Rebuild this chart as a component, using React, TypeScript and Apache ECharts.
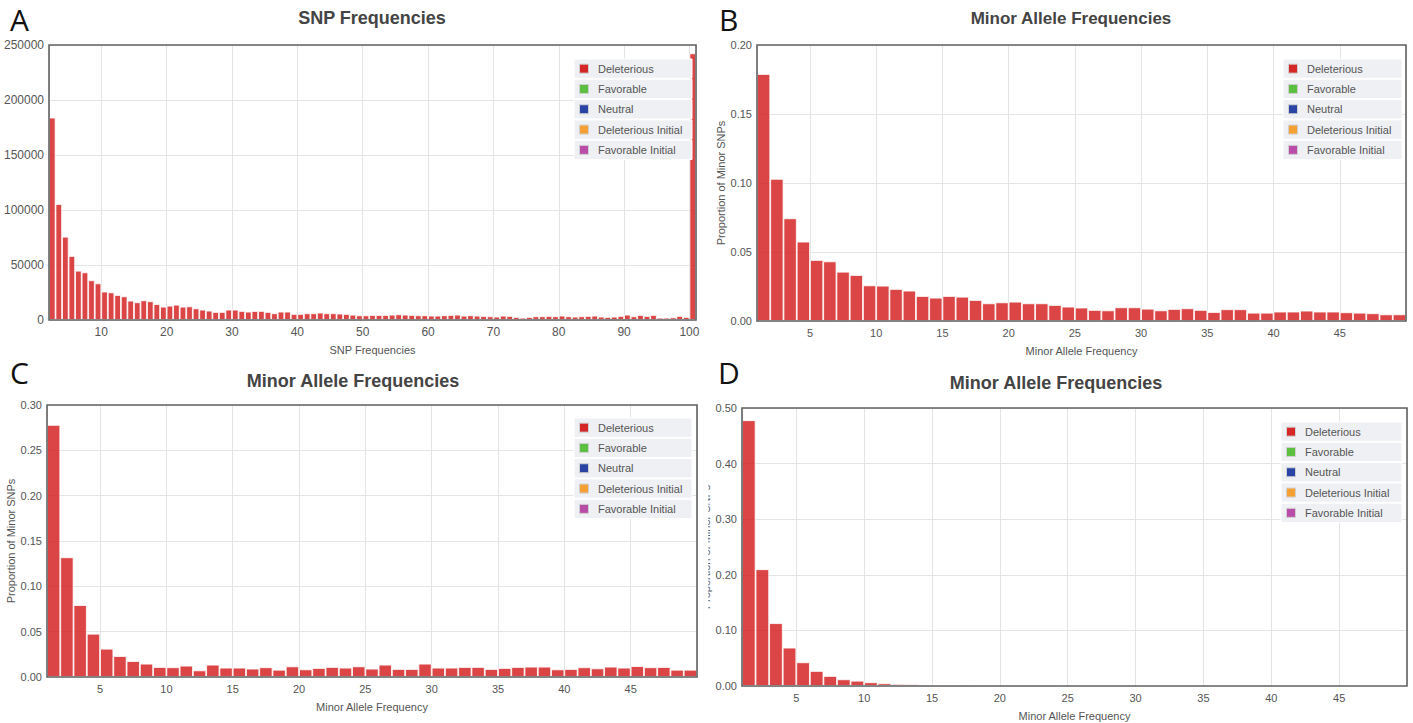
import React, { useEffect, useRef } from 'react';
import * as echarts from 'echarts';

// ---------- data ----------
// Panel A: SNP frequency histogram, bins start at 2 (bin k spans [k, k+1])
const snpBinStart = 2;
const snpCounts = [
  184000, 105400, 75700, 58200, 44800, 43300, 36100, 33300,
  25800, 25100, 22700, 21500, 17600, 16100, 17900, 17000, 14500, 12100,
  13000, 13900, 12100, 12400, 10600, 9400, 8500, 7300, 7300, 9400,
  9400, 8200, 7600, 8200, 8200, 7300, 6100, 7600, 7600, 5500,
  5500, 6100, 6100, 6700, 6100, 6100, 5800, 5500, 4800, 4200,
  4200, 4500, 4500, 4500, 4850, 5150, 4850, 4550, 4250, 4250,
  3950, 3950, 4250, 4550, 4850, 3950, 4250, 3950, 3650, 3350,
  3050, 3950, 3650, 2750, 2100, 2750, 3350, 3350, 3650, 3350,
  3950, 3350, 3050, 3350, 3650, 3950, 3050, 2750, 3050, 3650,
  4850, 3350, 4550, 3650, 4550, 2100, 2100, 2400, 3650, 2750,
  242400,
];

// Panels B, C, D: minor allele frequency, bins start at 1
const mafBinStart = 1;
const mafB = [
  0.179, 0.103, 0.0744, 0.0575, 0.0442, 0.0432, 0.0357, 0.0333, 0.0258, 0.0256,
  0.0232, 0.022, 0.0181, 0.0169, 0.0181, 0.0176, 0.0152, 0.0128, 0.0135, 0.014,
  0.0128, 0.0128, 0.0116, 0.0104, 0.0097, 0.008, 0.0077, 0.0099, 0.0099, 0.0089,
  0.0077, 0.0087, 0.0092, 0.008, 0.0065, 0.0085, 0.0085, 0.006, 0.006, 0.0068,
  0.0068, 0.0075, 0.0068, 0.0068, 0.0063, 0.006, 0.0056, 0.0048, 0.0048,
];
const mafC = [
  0.278, 0.132, 0.0793, 0.0477, 0.0312, 0.0231, 0.0176, 0.0147, 0.011, 0.0107,
  0.0125, 0.0073, 0.0136, 0.0103, 0.0103, 0.0092, 0.0107, 0.008, 0.0117, 0.0084,
  0.0099, 0.011, 0.0103, 0.0117, 0.0092, 0.0136, 0.0088, 0.0088, 0.0147, 0.0103,
  0.0103, 0.011, 0.011, 0.0088, 0.0099, 0.011, 0.0114, 0.0114, 0.0084, 0.0088,
  0.0107, 0.0095, 0.0114, 0.0103, 0.012, 0.0107, 0.011, 0.008, 0.008,
];
const mafD = [
  0.478, 0.21, 0.113, 0.069, 0.0426, 0.027, 0.018, 0.012, 0.0095, 0.0066,
  0.0048, 0.0036, 0.003, 0.0025, 0.0022, 0.002, 0.0015, 0.0012, 0.001, 0.0009,
  0.0008, 0.0007, 0.0007, 0.0006, 0.0005, 0.0005, 0.0004, 0.0004, 0.0004, 0.0003,
  0.0003, 0.0003, 0.0003, 0.0002, 0.0002, 0.0002, 0.0002, 0.0002, 0.0002, 0.0002,
  0.0002, 0.0001, 0.0001, 0.0001, 0.0001, 0.0001, 0.0001, 0.0001, 0.0001,
];

const legendNames = ['Deleterious', 'Favorable', 'Neutral', 'Deleterious Initial', 'Favorable Initial'];
const legendColors = ['#d62728', '#5cbf3f', '#2a44a6', '#f5a032', '#b94ca9'];

// ---------- layout ----------
const FONT = '"Liberation Sans", Arial, Helvetica, sans-serif';
const LETTER_FONT = '"Open Sans", "Noto Sans", sans-serif';
const BAR_COLOR = 'rgba(214,39,40,0.86)';

const panels = [
  {
    letter: 'A', letterPos: [10, 19],
    title: 'SNP Frequencies', titlePos: [372, 18], titleSize: 18,
    grid: { left: 49, top: 45, width: 647, height: 275 },
    xMin: 2, xMax: 101, xStep: 10, xName: 'SNP Frequencies',
    yMax: 250000, yStep: 50000, yDec: 0, yName: '',
    start: snpBinStart, values: snpCounts,
    legend: [574, 59, 118], labelSize: 12,
  },
  {
    letter: 'B', letterPos: [719, 19],
    title: 'Minor Allele Frequencies', titlePos: [1071, 18], titleSize: 17,
    grid: { left: 757, top: 45, width: 649, height: 276 },
    xMin: 1, xMax: 50, xStep: 5, xName: 'Minor Allele Frequency',
    yMax: 0.2, yStep: 0.05, yDec: 2, yName: 'Proportion of Minor SNPs',
    start: mafBinStart, values: mafB,
    legend: [1283, 59, 119], labelSize: 11,
  },
  {
    letter: 'C', letterPos: [10, 372],
    title: 'Minor Allele Frequencies', titlePos: [353, 381], titleSize: 18,
    grid: { left: 47, top: 405, width: 650, height: 272 },
    xMin: 1, xMax: 50, xStep: 5, xName: 'Minor Allele Frequency',
    yMax: 0.3, yStep: 0.05, yDec: 2, yName: 'Proportion of Minor SNPs',
    start: mafBinStart, values: mafC,
    legend: [574, 418, 118], labelSize: 11,
  },
  {
    letter: 'D', letterPos: [718, 372],
    title: 'Minor Allele Frequencies', titlePos: [1056, 383], titleSize: 18,
    grid: { left: 742, top: 408, width: 665, height: 278 },
    xMin: 1, xMax: 50, xStep: 5, xName: 'Minor Allele Frequency',
    yMax: 0.5, yStep: 0.1, yDec: 2, yName: 'Proportion of Minor SNPs',
    start: mafBinStart, values: mafD,
    legend: [1281, 422, 121], labelSize: 11,
  },
];

function legendGroup(x0: number, y0: number, w: number) {
  const rowH = 20.3;
  const children: any[] = [];
  legendNames.forEach((name, i) => {
    const top = y0 + i * rowH;
    const cy = top + rowH / 2;
    children.push({
      type: 'rect', z: 20,
      shape: { x: x0, y: top, width: w, height: rowH - 1 },
      style: { fill: '#eef0f3', stroke: '#ffffff', lineWidth: 1 },
    });
    children.push({
      type: 'rect', z: 21,
      shape: { x: x0 + 5.5, y: cy - 5, width: 9, height: 9 },
      style: { fill: legendColors[i], stroke: '#d0d0d0', lineWidth: 1 },
    });
    children.push({
      type: 'text', z: 22,
      x: x0 + 24,
      y: cy - 0.5,
      style: {
        text: name, fill: '#555', fontSize: 11, fontFamily: FONT,
        align: 'left', verticalAlign: 'middle', textAlign: 'left', textVerticalAlign: 'middle',
      },
    });
  });
  return { type: 'group', children };
}

function buildOption() {
  const graphic: any[] = [];
  panels.forEach((p) => {
    const g = p.grid;
    graphic.push({
      type: 'rect', z: 30,
      shape: { x: g.left, y: g.top, width: g.width, height: g.height },
      style: { fill: 'none', stroke: '#626262', lineWidth: 1.6 },
    });
    graphic.push({
      type: 'text', z: 30, x: p.titlePos[0], y: p.titlePos[1],
      style: {
        text: p.title, fill: '#444', fontSize: p.titleSize, fontWeight: 'bold', fontFamily: FONT,
        align: 'center', verticalAlign: 'middle', textAlign: 'center', textVerticalAlign: 'middle',
      },
    });
    graphic.push({
      type: 'text', z: 30, x: p.letterPos[0], y: p.letterPos[1],
      style: {
        text: p.letter, fill: '#111', fontSize: 30, lineHeight: 30, fontWeight: 'normal',
        fontFamily: LETTER_FONT,
        align: 'left', verticalAlign: 'middle', textAlign: 'left', textVerticalAlign: 'middle',
      },
    });
    graphic.push(legendGroup(p.legend[0], p.legend[1], p.legend[2]));
  });
  // the D panel's axis title is half hidden in the reference
  graphic.push({
    type: 'rect', z: 40,
    shape: { x: 699, y: 470, width: 9.3, height: 170 },
    style: { fill: '#fff' },
  });

  return {
    animation: false,
    backgroundColor: '#fff',
    grid: panels.map((p) => ({ ...p.grid, show: false })),
    xAxis: panels.map((p, i) => ({
      type: 'value',
      gridIndex: i,
      min: p.xMin,
      max: p.xMax,
      splitNumber: 10,
      minInterval: p.xStep,
      maxInterval: p.xStep,
      axisLine: { show: false },
      axisTick: { show: false },
      axisLabel: {
        showMinLabel: false, showMaxLabel: false,
        fontSize: p.labelSize, color: '#555', fontFamily: FONT, margin: 6,
      },
      splitLine: { show: true, lineStyle: { color: '#e4e4e4', width: 1 } },
      name: p.xName,
      nameLocation: 'middle',
      nameGap: 24,
      nameTextStyle: { fontSize: 11, color: '#555', fontFamily: FONT, verticalAlign: 'top' },
    })),
    yAxis: panels.map((p, i) => ({
      type: 'value',
      gridIndex: i,
      min: 0,
      max: p.yMax,
      interval: p.yStep,
      axisLine: { show: false },
      axisTick: { show: false },
      axisLabel: {
        fontSize: p.labelSize, color: '#555', fontFamily: FONT, margin: 5,
        formatter: (v: number) => (p.yDec ? v.toFixed(p.yDec) : String(Math.round(v))),
      },
      splitLine: { show: true, lineStyle: { color: '#e4e4e4', width: 1 } },
      name: p.yName,
      nameLocation: 'middle',
      nameGap: 30,
      nameTextStyle: { fontSize: 11, color: '#555', fontFamily: FONT },
    })),
    series: panels.map((p, i) => ({
      type: 'bar',
      name: 'Deleterious',
      xAxisIndex: i,
      yAxisIndex: i,
      barWidth: '100%',
      barCategoryGap: 0,
      itemStyle: { color: BAR_COLOR, borderColor: '#fff', borderWidth: 0.8 },
      silent: true,
      data: p.values.map((v, k) => [p.start + k + 0.5, v]),
    })),
    graphic,
  };
}

export default function App() {
  const ref = useRef<HTMLDivElement>(null);
  useEffect(() => {
    if (!ref.current) return;
    const chart = echarts.init(ref.current, undefined, { renderer: 'svg' });
    chart.setOption(buildOption() as any);
    return () => chart.dispose();
  }, []);
  return (
    <div
      ref={ref}
      style={{ position: 'fixed', left: 0, top: 0, width: 1413, height: 723, background: '#fff' }}
    />
  );
}
